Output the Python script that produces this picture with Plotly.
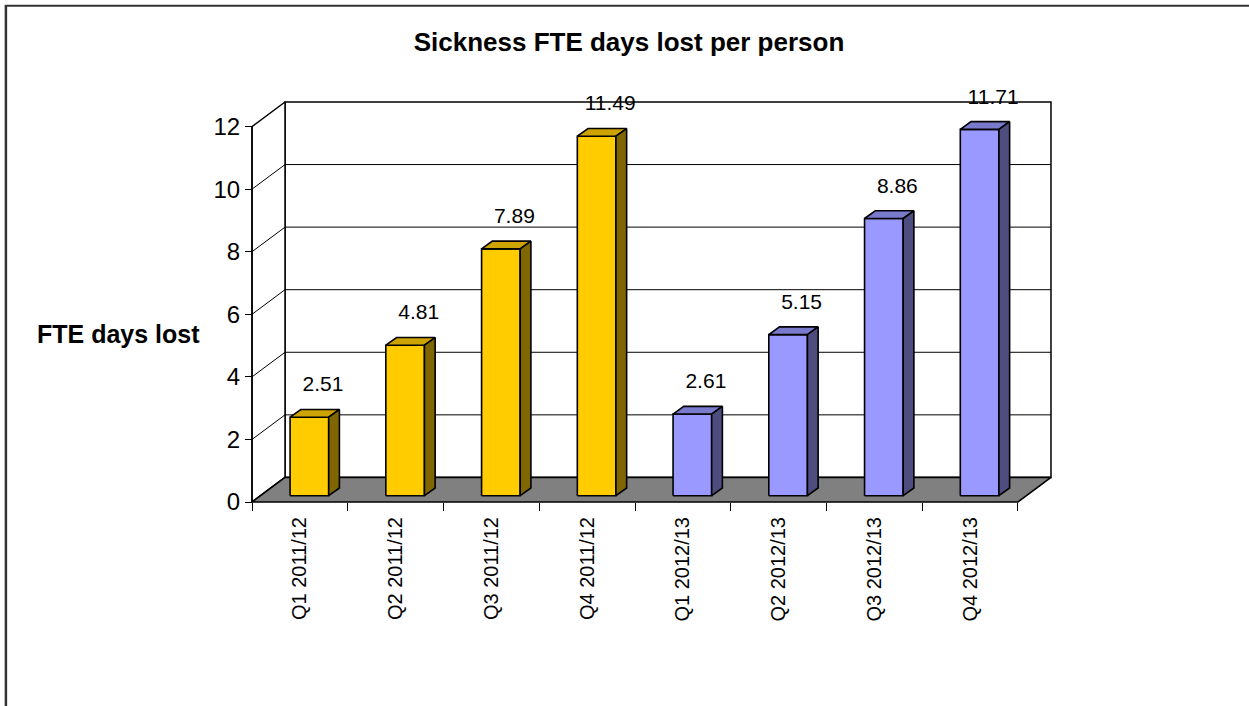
import plotly.graph_objects as go

# ---------------- data ----------------
categories = ["Q1 2011/12", "Q2 2011/12", "Q3 2011/12", "Q4 2011/12",
              "Q1 2012/13", "Q2 2012/13", "Q3 2012/13", "Q4 2012/13"]
values_2011_12 = [2.51, 4.81, 7.89, 11.49]
values_2012_13 = [2.61, 5.15, 8.86, 11.71]
y_ticks = [0, 2, 4, 6, 8, 10, 12]
title_text = "Sickness FTE days lost per person"
y_title_text = "FTE days lost"

values = values_2011_12 + values_2012_13
n = len(categories)

# ---------------- styling / geometry ----------------
FONT = "Liberation Sans, Arial, sans-serif"
W, H = 1249, 706
X0PX, Y0PX = 252.0, 502.0      # pixel of (x=-0.5, y=0) on the front plane
PXC, PXV = 95.7, 31.3          # pixels per category / per value unit

def ux(px):
    return px / PXC

def uy(px):
    return px / PXV

wall_dx, wall_dy = ux(33), uy(24.6)
bar_fx, bar_fy = ux(9.5), uy(6.3)
bar_dx, bar_dy = ux(10.7), uy(7.7)
bar_w = ux(38.6)

xmin = -0.5 - ux(40)
xmax = n - 0.5 + wall_dx + ux(20)
ymin = -uy(30)
ymax = y_ticks[-1] + wall_dy + uy(60)

margin_l = X0PX - (-0.5 - xmin) * PXC
plot_w = (xmax - xmin) * PXC
margin_r = W - margin_l - plot_w
margin_b = H - (Y0PX + (0 - ymin) * PXV)
plot_h = (ymax - ymin) * PXV
margin_t = H - margin_b - plot_h

front_colors = ["#FFCC00"] * 4 + ["#9999FF"] * 4
top_colors = ["#CCA300"] * 4 + ["#7A7ACC"] * 4
side_colors = ["#806600"] * 4 + ["#4D4D80"] * 4

fig = go.Figure()

def poly(xs, ys, fill, lw=1.5, lc="black"):
    fig.add_trace(go.Scatter(x=xs + [xs[0]], y=ys + [ys[0]], mode="lines",
                             fill="toself", fillcolor=fill,
                             line=dict(color=lc, width=lw),
                             hoverinfo="skip", showlegend=False))

def paper_x(px):
    return (px - margin_l) / plot_w

def paper_y(py):
    return (H - margin_b - py) / plot_h

xl, xr = -0.5, n - 0.5
ytop = y_ticks[-1]

# back wall
poly([xl + wall_dx, xr + wall_dx, xr + wall_dx, xl + wall_dx],
     [wall_dy, wall_dy, ytop + wall_dy, ytop + wall_dy], "white")
# left wall
poly([xl, xl + wall_dx, xl + wall_dx, xl],
     [0, wall_dy, ytop + wall_dy, ytop], "white")

# gridlines
gx, gy = [], []
for v in y_ticks[1:-1]:
    gx += [xl, xl + wall_dx, xr + wall_dx, None]
    gy += [v, v + wall_dy, v + wall_dy, None]
fig.add_trace(go.Scatter(x=gx, y=gy, mode="lines",
                         line=dict(color="black", width=1),
                         hoverinfo="skip", showlegend=False))

# floor
poly([xl, xr, xr + wall_dx, xl + wall_dx], [0, 0, wall_dy, wall_dy], "#808080", lw=1.6)

# front-left axis line
fig.add_trace(go.Scatter(x=[xl, xl], y=[0, ytop], mode="lines",
                         line=dict(color="black", width=1.5),
                         hoverinfo="skip", showlegend=False))

# bars
for i, v in enumerate(values):
    x0 = i - bar_w / 2 + bar_fx
    x1 = x0 + bar_w
    yb = bar_fy
    yt = v + bar_fy
    poly([x0, x1, x1, x0], [yb, yb, yt, yt], front_colors[i], lw=1.6)
    poly([x0, x1, x1 + bar_dx, x0 + bar_dx], [yt, yt, yt + bar_dy, yt + bar_dy],
         top_colors[i], lw=1.6)
    poly([x1, x1 + bar_dx, x1 + bar_dx, x1], [yb, yb + bar_dy, yt + bar_dy, yt],
         side_colors[i], lw=1.6)

# data labels
fig.add_trace(go.Scatter(
    x=[i + bar_fx + ux(13.5) for i in range(n)],
    y=[v + bar_fy + uy(31) for v in values],
    mode="text", text=[f"{v:.2f}" for v in values],
    textposition="middle center",
    textfont=dict(family=FONT, size=21, color="black"),
    cliponaxis=False, hoverinfo="skip", showlegend=False))

# y axis title
fig.add_annotation(x=paper_x(118.5), y=paper_y(334), xref="paper", yref="paper",
                   text=y_title_text, showarrow=False,
                   font=dict(family=FONT, size=25, color="black", weight="bold"),
                   xanchor="center", yanchor="middle")

# outer border (left & top edges visible)
fig.add_shape(type="line", xref="paper", yref="paper",
              x0=paper_x(6), x1=paper_x(6), y0=paper_y(5), y1=paper_y(H + 10),
              line=dict(color="#333333", width=2.5))
fig.add_shape(type="line", xref="paper", yref="paper",
              x0=paper_x(5), x1=paper_x(W + 10), y0=paper_y(5.5), y1=paper_y(5.5),
              line=dict(color="#333333", width=2))

fig.update_layout(
    width=W, height=H, autosize=False,
    margin=dict(l=margin_l, r=margin_r, t=margin_t, b=margin_b, pad=0),
    paper_bgcolor="white", plot_bgcolor="white",
    title=dict(text=title_text, x=629 / W, xref="container", xanchor="center",
               y=1 - 42 / H, yref="container", yanchor="middle",
               font=dict(family=FONT, size=26, color="black", weight="bold")),
    font=dict(family=FONT, color="black"),
    xaxis=dict(range=[xmin, xmax], anchor="free", position=(0 - ymin) / (ymax - ymin),
               tickmode="array", tickvals=list(range(n)), ticktext=categories,
               tickangle=-90, ticks="", showgrid=False, zeroline=False, showline=False,
               tickfont=dict(family=FONT, size=20, color="black"),
               ticklabelstandoff=10,
               minor=dict(ticks="outside", ticklen=8, tickwidth=1, tickcolor="black",
                          tickmode="array", tickvals=[i - 0.5 for i in range(n + 1)],
                          showgrid=False),
               fixedrange=True),
    yaxis=dict(range=[ymin, ymax], anchor="free", position=(-0.5 - xmin) / (xmax - xmin),
               tickmode="array", tickvals=y_ticks, ticks="outside", ticklen=7,
               tickwidth=1, tickcolor="black", showgrid=False, zeroline=False,
               showline=False, tickfont=dict(family=FONT, size=24, color="black"),
               fixedrange=True),
    showlegend=False,
)

fig.write_html("out.html")
